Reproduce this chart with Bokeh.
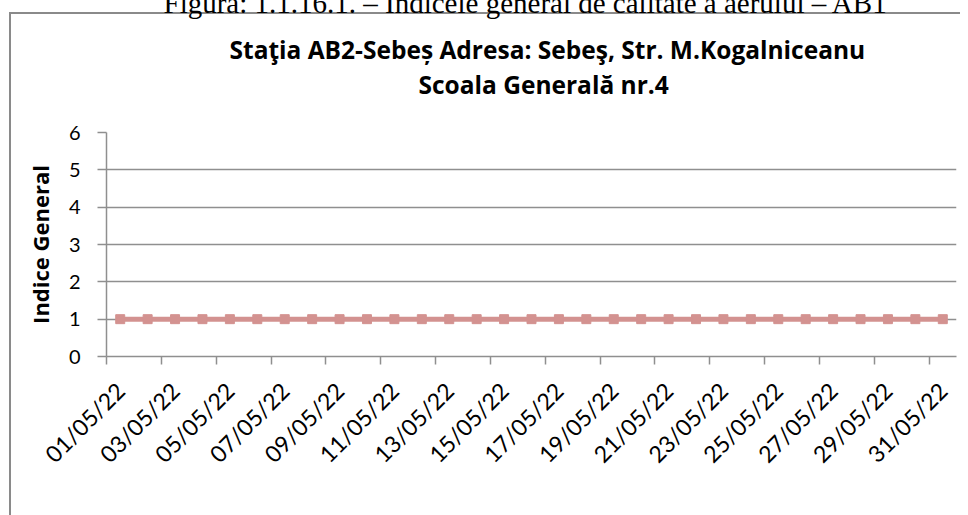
import math
from bokeh.plotting import figure
from bokeh.models import Range1d, FixedTicker, Title, LinearAxis
from bokeh.embed import file_html
from bokeh.resources import INLINE

# ---- data ----
dates = ["01/05/22", "02/05/22", "03/05/22", "04/05/22", "05/05/22", "06/05/22",
         "07/05/22", "08/05/22", "09/05/22", "10/05/22", "11/05/22", "12/05/22",
         "13/05/22", "14/05/22", "15/05/22", "16/05/22", "17/05/22", "18/05/22",
         "19/05/22", "20/05/22", "21/05/22", "22/05/22", "23/05/22", "24/05/22",
         "25/05/22", "26/05/22", "27/05/22", "28/05/22", "29/05/22", "30/05/22",
         "31/05/22"]
indice_general = [1, 1, 1, 1, 1, 1, 1, 1, 1, 1, 1, 1, 1, 1, 1, 1,
                  1, 1, 1, 1, 1, 1, 1, 1, 1, 1, 1, 1, 1, 1, 1]
y_ticks = [0, 1, 2, 3, 4, 5, 6]

caption = "Figura: 1.1.16.1. \u2013 Indicele general de calitate a aerului \u2013 AB1"
title1 = "Sta\u0163ia AB2-Sebe\u0219  Adresa: Sebe\u015f,  Str. M.Kogalniceanu"
title2 = "Scoala General\u0103 nr.4"
y_label = "Indice General"

# ---- styling ----
LINE_C = "#D39290"
GRID_C = "#8f8f8f"
BORDER_C = "#8a8a8a"
FONT = "Lato"
TFONT = "Open Sans"
SHIFT = 40  # canvas is pushed up so the caption is cut at the window top

x = list(range(len(dates)))
label_idx = x[::2]
boundaries = [i - 0.5 for i in label_idx]

p = figure(width=960, height=515 + SHIFT,
           x_range=Range1d(-0.5, len(dates) - 0.5), y_range=Range1d(0, 6),
           output_backend="svg", toolbar_location=None,
           min_border_left=106, min_border_right=4,
           min_border_top=132 + SHIFT, min_border_bottom=159)
p.title = None
p.styles = {
    "margin-top": f"-{SHIFT}px",
    "background": (f"linear-gradient({BORDER_C}, {BORDER_C}) 9px {12 + SHIFT}px / 2px 3000px no-repeat, "
                   f"linear-gradient({BORDER_C}, {BORDER_C}) 9px {12 + SHIFT}px / 3000px 2px no-repeat, white"),
}
p.outline_line_color = None
p.background_fill_color = "white"
p.border_fill_alpha = 0

# x axis
xa = p.xaxis[0]
xa.ticker = FixedTicker(ticks=label_idx, minor_ticks=boundaries)
xa.major_label_overrides = {i: dates[i] for i in label_idx}
xa.major_label_orientation = math.pi / 4
xa.major_tick_out = 0
xa.major_tick_in = 0
xa.minor_tick_out = 8
xa.minor_tick_in = 0
xa.minor_tick_line_color = GRID_C
xa.minor_tick_line_width = 1.5
xa.axis_line_color = GRID_C
xa.axis_line_width = 1.5
xa.major_label_text_font = FONT
xa.major_label_text_font_size = "23px"
xa.major_label_text_color = "black"
xa.major_label_standoff = 22

# y axis
ya = p.yaxis[0]
ya.ticker = FixedTicker(ticks=y_ticks)
ya.major_tick_out = 9
ya.major_tick_in = 0
ya.minor_tick_out = 0
ya.minor_tick_in = 0
ya.major_tick_line_color = GRID_C
ya.major_tick_line_width = 1.5
ya.axis_line_color = GRID_C
ya.axis_line_width = 1.5
ya.major_label_text_font = FONT
ya.major_label_text_font_size = "20px"
ya.major_label_text_color = "black"
ya.major_label_standoff = 17
ya.axis_label = y_label
ya.axis_label_text_font = TFONT
ya.axis_label_text_font_style = "bold"
ya.axis_label_text_font_size = "22px"
ya.axis_label_text_color = "black"
ya.axis_label_standoff = 11

p.xgrid.visible = False
p.ygrid.ticker = FixedTicker(ticks=y_ticks)
p.ygrid.grid_line_color = GRID_C
p.ygrid.grid_line_width = 1.5

# series
p.line(x, indice_general, line_width=5, color=LINE_C)
p.scatter(x, indice_general, marker="square", size=9, color=LINE_C)

# invisible spacer between plot area and title (an axis with one hidden tick)
spacer = LinearAxis(ticker=FixedTicker(ticks=[0]), major_label_overrides={0: ""},
                    major_tick_out=32, major_tick_in=0,
                    minor_tick_out=0, minor_tick_in=0, major_label_standoff=0,
                    major_label_text_font_size="1px",
                    axis_line_alpha=0, major_tick_line_alpha=0, minor_tick_line_alpha=0)
p.add_layout(spacer, "above")

# titles (first added is nearest to the plot)
p.add_layout(Title(text=title2, align="left", offset=312, standoff=0,
                   text_font=TFONT, text_font_style="bold", text_font_size="24.5px",
                   text_color="black"), "above")
p.add_layout(Title(text=title1, align="left", offset=123, standoff=0,
                   text_font=TFONT, text_font_style="bold", text_font_size="24.5px",
                   text_color="black"), "above")
p.add_layout(Title(text=caption, align="left", offset=57, standoff=24,
                   text_font="Liberation Serif", text_font_style="normal",
                   text_font_size="29px", text_color="black"), "above")

open("out.html", "w").write(file_html(p, INLINE))
